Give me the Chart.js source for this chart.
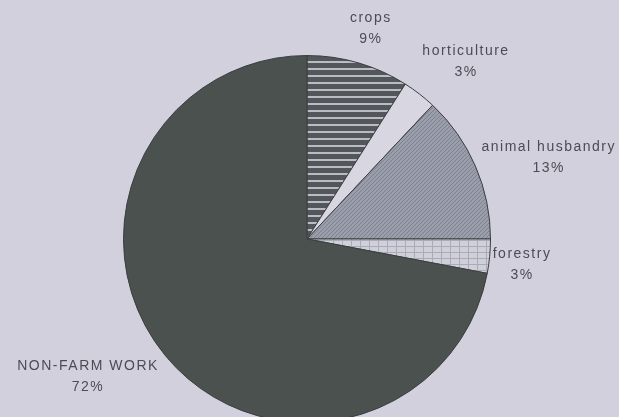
<!DOCTYPE html>
<html lang="en">
<head>
    <meta charset="UTF-8">
    <title>Income sources pie</title>
    <script src="https://cdn.jsdelivr.net/npm/chart.js"></script>
    <style>
        html, body {
            margin: 0;
            padding: 0;
            background: #d2d0dc;
            overflow: hidden;
        }

        #wrap {
            position: relative;
            width: 619px;
            height: 423px;
        }
    </style>
</head>
<body>

    <div id="wrap">
        <canvas id="myChart"></canvas>
    </div>

    <script>
        // data
        var labels = ['crops', 'horticulture', 'animal husbandry', 'forestry', 'NON-FARM WORK'];
        var shares = [9, 3, 13, 3, 72];
        var pctLabels = ['9%', '3%', '13%', '3%', '72%'];

        // where each label sits: shift of angle (deg) and distance as fraction of radius
        var labelAngleShift = [0.7, 4, 4.8, 1.3, 7.4];
        var labelDist = [1.196, 1.30, 1.39, 1.18, 1.41];

        function makePattern(w, h, draw) {
            var c = document.createElement('canvas');
            c.width = w;
            c.height = h;
            var g = c.getContext('2d');
            draw(g, w, h);
            return g.createPattern(c, 'repeat');
        }

        // horizontal stripes (crops)
        var stripes = makePattern(8, 7, function (g, w, h) {
            g.fillStyle = '#53575b';
            g.fillRect(0, 0, w, h);
            g.fillStyle = '#b9bdc3';
            g.fillRect(0, 5, w, 2);
        });

        // fine diagonal hatch (animal husbandry)
        var hatch = makePattern(4, 4, function (g, w, h) {
            g.fillStyle = '#9a9eab';
            g.fillRect(0, 0, w, h);
            g.fillStyle = '#7f8391';
            for (var i = 0; i < 4; i++) g.fillRect(i, 3 - i, 1, 1);
        });

        // light grid (forestry)
        var grid = makePattern(9, 6, function (g, w, h) {
            g.fillStyle = '#cfd0da';
            g.fillRect(0, 0, w, h);
            g.fillStyle = '#a9abb7';
            g.fillRect(0, 0, 1, h);
            g.fillRect(0, 0, w, 1);
        });

        var colors = [stripes, '#d8d7e1', hatch, grid, '#4b514f'];

        var pieLabels = {
            id: 'pieLabels',
            afterDatasetsDraw: function (chart) {
                var ctx = chart.ctx;
                var arcs = chart.getDatasetMeta(0).data;
                ctx.save();
                ctx.fillStyle = '#4c4c54';
                ctx.font = '14px "Liberation Sans", Arial, sans-serif';
                ctx.letterSpacing = '1.5px';
                ctx.textAlign = 'center';
                ctx.textBaseline = 'middle';
                arcs.forEach(function (arc, i) {
                    var p = arc.getProps(['x', 'y', 'startAngle', 'endAngle', 'outerRadius'], true);
                    var mid = (p.startAngle + p.endAngle) / 2 + labelAngleShift[i] * Math.PI / 180;
                    var d = p.outerRadius * labelDist[i];
                    var lx = p.x + Math.cos(mid) * d;
                    var ly = p.y + Math.sin(mid) * d;
                    ctx.fillText(labels[i], lx, ly - 10.5);
                    ctx.fillText(pctLabels[i], lx, ly + 10.5);
                });
                ctx.restore();
            }
        };

        var ctx = document.getElementById('myChart').getContext('2d');
        var myChart = new Chart(ctx, {
            type: 'pie',
            data: {
                labels: labels,
                datasets: [{
                    data: shares,
                    backgroundColor: colors,
                    borderColor: '#3a3e3e',
                    borderWidth: 1
                }]
            },
            options: {
                responsive: true,
                maintainAspectRatio: false,
                animation: false,
                layout: {
                    padding: { top: 55, left: 0, right: 5, bottom: 0 }
                },
                plugins: {
                    legend: { display: false },
                    tooltip: { enabled: false }
                }
            },
            plugins: [pieLabels]
        });
    </script>

</body>
</html>
